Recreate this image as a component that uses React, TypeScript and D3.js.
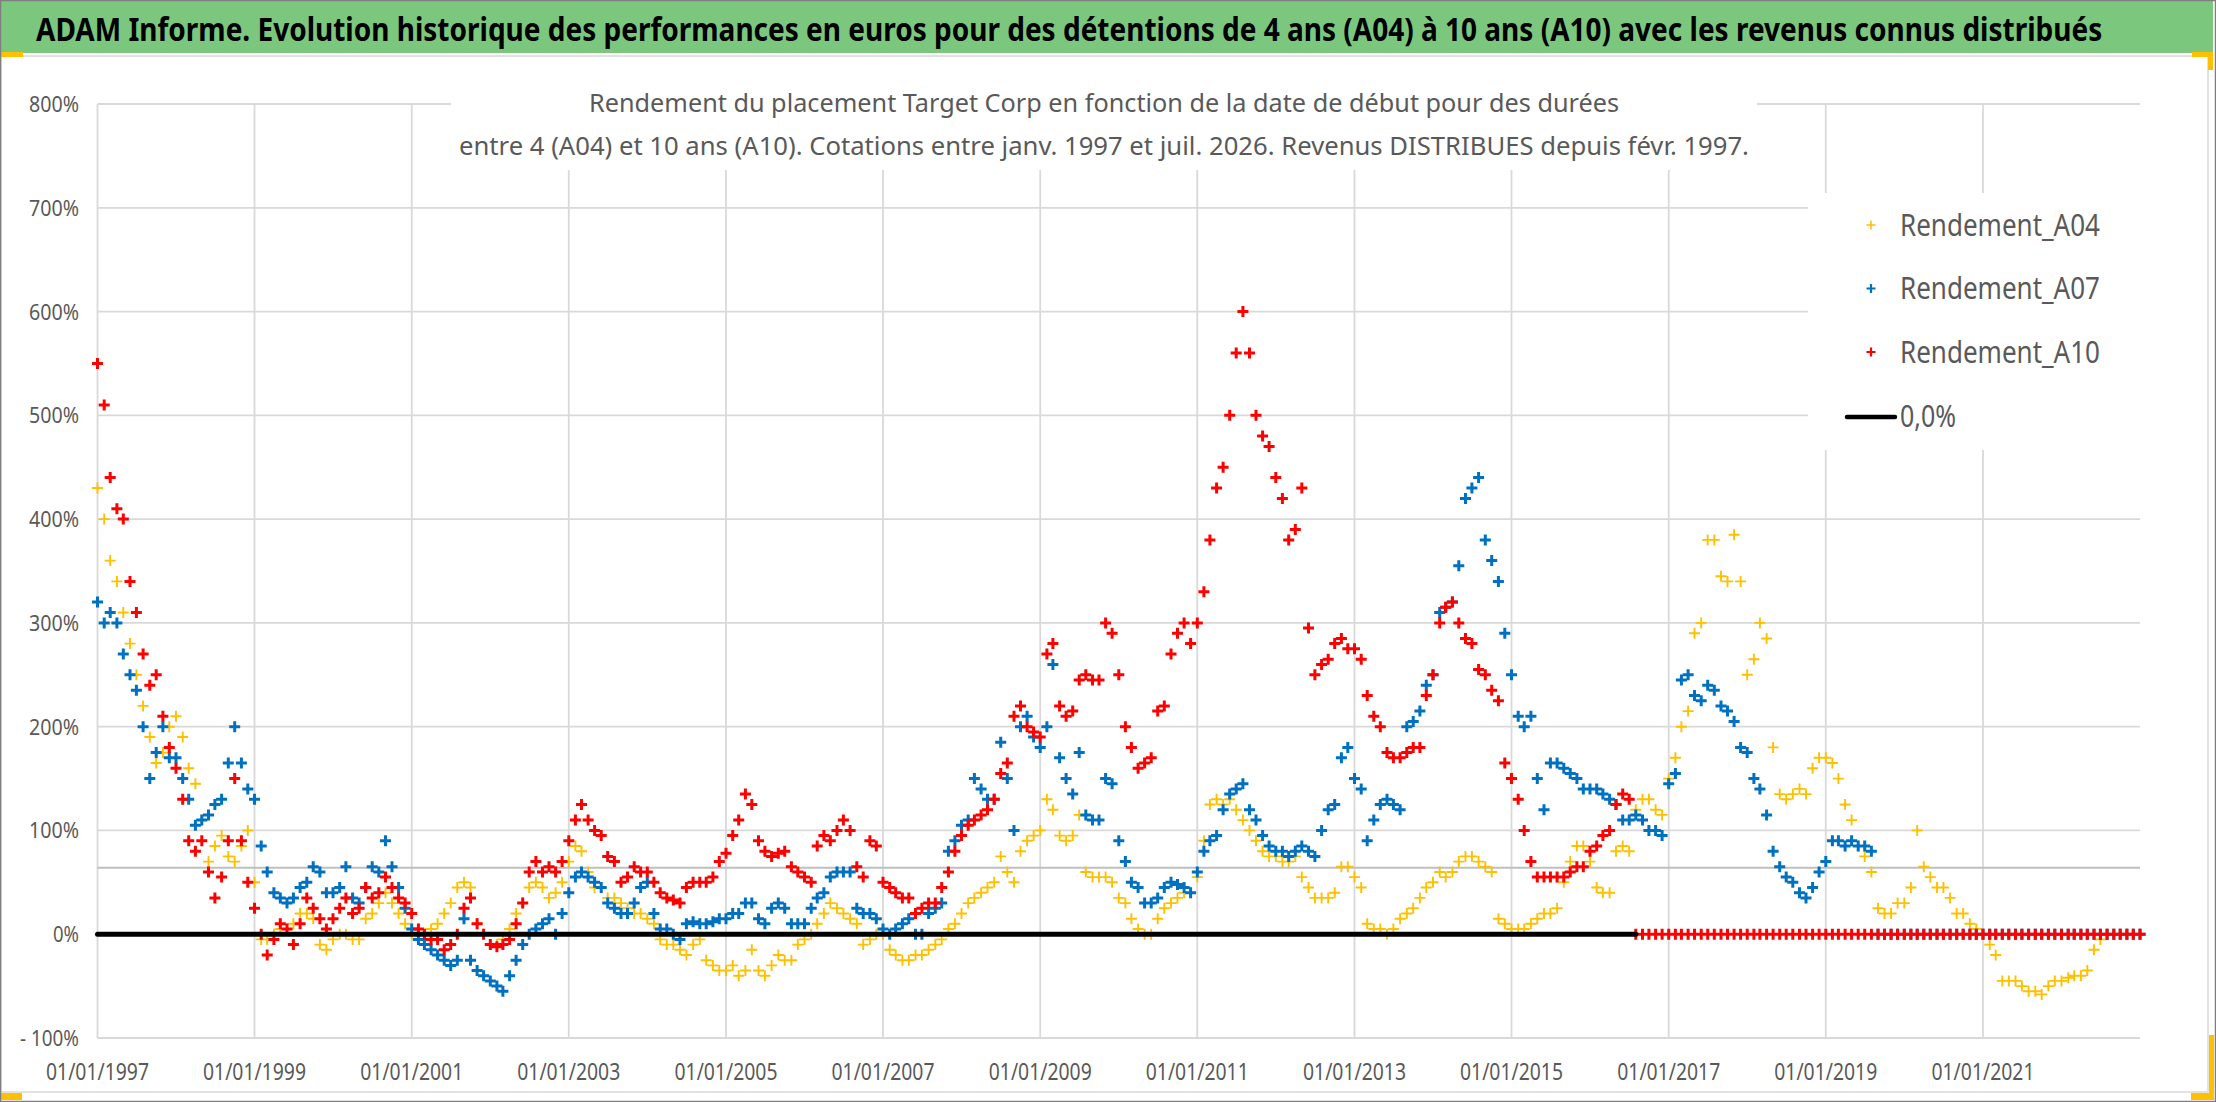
// App.tsx
// Target Corp : rendements A04 / A07 / A10 (nuage de points) avec d3
import React, { useLayoutEffect, useRef, useState } from 'react';
import * as d3 from 'd3';

// valeurs mensuelles en %, une ligne par année, à partir de janv. 1997
const rendementA04 = [
  430, 400, 360, 340, 310, 280, 250, 220, 190, 165, 175, 200,
  210, 190, 160, 145, 110, 70, 85, 95, 75, 70, 85, 100,
  50, -5, -5, 0, 5, 5, 10, 20, 20, 15, -10, -15,
  -5, 0, 0, -5, -5, 15, 20, 30, 40, 30, 20, 10,
  0, 5, 0, 5, 10, 20, 30, 45, 50, 45, 10, 0,
  -10, -10, -5, 5, 20, 30, 45, 50, 45, 35, 40, 50,
  70, 85, 80, 60, 45, 45, 35, 35, 30, 25, 20, 20,
  15, 10, -5, -10, -10, -15, -20, -10, -5, -25, -30, -35,
  -35, -30, -40, -35, -15, -35, -40, -30, -20, -25, -25, -10,
  -5, 0, 10, 20, 30, 25, 20, 15, 10, -10, -5, 0,
  0, -15, -20, -25, -25, -20, -20, -15, -10, -5, 5, 10,
  20, 30, 35, 40, 45, 50, 75, 60, 50, 80, 90, 95,
  100, 130, 120, 95, 90, 95, 115, 60, 55, 55, 55, 50,
  35, 30, 15, 5, 0, 0, 15, 25, 30, 35, 40, 40,
  55, 90, 125, 130, 125, 130, 120, 110, 100, 90, 80, 75,
  75, 70, 70, 75, 55, 45, 35, 35, 35, 40, 65, 65,
  55, 45, 10, 5, 5, 0, 5, 15, 20, 25, 35, 45,
  50, 60, 55, 60, 70, 75, 75, 70, 65, 60, 15, 10,
  5, 5, 5, 10, 15, 20, 20, 25, 50, 70, 85, 85,
  70, 45, 40, 40, 80, 85, 80, 120, 130, 130, 120, 115,
  150, 170, 200, 215, 290, 300, 380, 380, 345, 340, 385, 340,
  250, 265, 300, 285, 180, 135, 130, 135, 140, 135, 160, 170,
  170, 165, 150, 125, 110, 85, 75, 60, 25, 20, 20, 30,
  30, 45, 100, 65, 55, 45, 45, 35, 20, 20, 10, 5,
  0, -10, -20, -45, -45, -45, -50, -55, -55, -58, -50, -45,
  -45, -42, -40, -40, -35, -15, -5, 0, 0, 0, 0, 0,
  0,
];

const rendementA07 = [
  320, 300, 310, 300, 270, 250, 235, 200, 150, 175, 200, 170,
  170, 150, 130, 105, 110, 115, 125, 130, 165, 200, 165, 140,
  130, 85, 60, 40, 35, 30, 35, 45, 50, 65, 60, 40,
  40, 45, 65, 35, 30, 45, 65, 60, 90, 65, 45, 25,
  5, -5, -10, -15, -20, -25, -30, -25, 15, -25, -35, -40,
  -45, -50, -55, -40, -25, -10, 0, 5, 10, 15, 0, 20,
  40, 55, 60, 55, 50, 45, 30, 25, 20, 20, 30, 45,
  50, 20, 5, 5, 0, -5, 10, 12, 10, 10, 12, 15,
  15, 20, 20, 30, 30, 15, 10, 25, 30, 25, 10, 10,
  10, 25, 35, 40, 55, 60, 60, 60, 25, 20, 20, 15,
  5, 0, 5, 10, 15, 0, 0, 20, 25, 30, 80, 90,
  105, 110, 150, 140, 130, 130, 185, 150, 100, 200, 210, 190,
  180, 200, 260, 170, 150, 135, 175, 115, 110, 110, 150, 145,
  90, 70, 50, 45, 30, 30, 35, 45, 50, 48, 45, 40,
  60, 80, 90, 95, 120, 135, 140, 145, 120, 110, 95, 85,
  80, 80, 75, 80, 85, 80, 75, 100, 120, 125, 170, 180,
  150, 140, 90, 110, 125, 130, 125, 120, 200, 205, 215, 240,
  250, 310, 315, 320, 355, 420, 430, 440, 380, 360, 340, 290,
  250, 210, 200, 210, 150, 120, 165, 165, 160, 155, 150, 140,
  140, 140, 135, 130, 125, 110, 110, 115, 110, 100, 100, 95,
  145, 155, 245, 250, 230, 225, 240, 235, 220, 215, 205, 180,
  175, 150, 140, 115, 80, 65, 55, 50, 40, 35, 45, 60,
  70, 90, 90, 85, 90, 85, 85, 80, 0, 0, 0, 0,
  0, 0, 0, 0, 0, 0, 0, 0, 0, 0, 0, 0,
  0, 0, 0, 0, 0, 0, 0, 0, 0, 0, 0, 0,
  0, 0, 0, 0, 0, 0, 0, 0, 0, 0, 0, 0,
  0,
];

const rendementA10 = [
  550, 510, 440, 410, 400, 340, 310, 270, 240, 250, 210, 180,
  160, 130, 90, 80, 90, 60, 35, 55, 90, 150, 90, 50,
  25, 0, -20, -5, 10, 5, -10, 10, 35, 25, 15, 5,
  15, 25, 35, 20, 25, 45, 35, 40, 55, 45, 35, 30,
  20, 5, 0, -5, -5, -15, -10, 0, 25, 35, 10, 0,
  -10, -12, -10, -5, 10, 30, 60, 70, 60, 65, 60, 70,
  90, 110, 125, 110, 100, 95, 75, 70, 50, 55, 65, 60,
  60, 50, 40, 35, 33, 30, 45, 50, 50, 50, 55, 70,
  78, 95, 110, 135, 125, 90, 80, 75, 78, 80, 65, 60,
  55, 50, 85, 95, 90, 100, 110, 100, 65, 55, 90, 85,
  50, 45, 40, 35, 35, 20, 25, 30, 30, 45, 60, 80,
  95, 105, 110, 115, 120, 130, 155, 165, 210, 220, 200, 195,
  190, 270, 280, 220, 210, 215, 245, 250, 245, 245, 300, 290,
  250, 200, 180, 160, 165, 170, 215, 220, 270, 290, 300, 280,
  300, 330, 380, 430, 450, 500, 560, 600, 560, 500, 480, 470,
  440, 420, 380, 390, 430, 295, 250, 260, 265, 280, 285, 275,
  275, 265, 230, 210, 200, 175, 170, 170, 175, 180, 180, 230,
  250, 300, 315, 320, 300, 285, 280, 255, 250, 235, 225, 165,
  150, 130, 100, 70, 55, 55, 55, 55, 55, 60, 65, 65,
  80, 85, 95, 100, 125, 135, 130, 0, 0, 0, 0, 0,
  0, 0, 0, 0, 0, 0, 0, 0, 0, 0, 0, 0,
  0, 0, 0, 0, 0, 0, 0, 0, 0, 0, 0, 0,
  0, 0, 0, 0, 0, 0, 0, 0, 0, 0, 0, 0,
  0, 0, 0, 0, 0, 0, 0, 0, 0, 0, 0, 0,
  0, 0, 0, 0, 0, 0, 0, 0, 0, 0, 0, 0,
  0, 0, 0, 0, 0, 0, 0, 0, 0, 0, 0, 0,
  0,
];

const seriesNames = ['Rendement_A04', 'Rendement_A07', 'Rendement_A10'];
const seriesColors = ['#FFC000', '#0070C0', '#FF0000'];
const yTicks = [-100, 0, 100, 200, 300, 400, 500, 600, 700, 800];
const xTickYears = [1997, 1999, 2001, 2003, 2005, 2007, 2009, 2011, 2013, 2015, 2017, 2019, 2021];
const refLevel = 64; // ligne grise horizontale
const zeroLineEnd = new Date(2016, 7, 1);

const title =
  'ADAM Informe. Evolution historique des performances en euros pour des détentions de 4 ans (A04) à 10 ans (A10) avec les revenus connus distribués';
const subtitle1 = 'Rendement du placement Target Corp en fonction de la date de début pour des durées';
const subtitle2 =
  'entre 4 (A04) et 10 ans (A10). Cotations entre janv. 1997 et juil. 2026. Revenus DISTRIBUES depuis févr. 1997.';

const W = 2216;
const H = 1102;
const font = "'Noto Sans', 'Open Sans', sans-serif";
const grey = '#595959';

const x = d3
  .scaleTime()
  .domain([new Date(1997, 0, 1), new Date(2023, 0, 1)])
  .range([97.5, 2140]);
const y = d3.scaleLinear().domain([-100, 800]).range([1038, 104]);

const fmtPct = (v: number) => (v < 0 ? `- ${-v}%` : `${v}%`);
const fmtDate = d3.timeFormat('%d/%m/%Y');

const plusPath = (vals: number[], r: number) =>
  vals
    .map((v, i) => {
      const px = x(new Date(1997, i, 1));
      const py = y(v);
      return `M${(px - r).toFixed(1)},${py.toFixed(1)}h${2 * r}M${px.toFixed(1)},${(py - r).toFixed(1)}v${2 * r}`;
    })
    .join('');

export default function App() {
  const series = [rendementA04, rendementA07, rendementA10];
  const x0 = x.range()[0];
  const x1 = x.range()[1];

  // le titre est mis à la largeur voulue par une mise à l'échelle horizontale
  const titleRef = useRef<SVGTextElement>(null);
  const [titleScale, setTitleScale] = useState(0.7);
  useLayoutEffect(() => {
    const w = titleRef.current?.getComputedTextLength();
    if (w) setTitleScale(2066 / w);
  }, []);

  return (
    <>
      <style>{'body{margin:0}'}</style>
      <svg width={W} height={H} style={{ display: 'block', background: '#fff' }}>
        {/* bandeau titre */}
        <rect x={0} y={0} width={2213} height={53} fill="#7CC77E" />
        <text
          ref={titleRef}
          transform={`translate(36,41) scale(${titleScale},1)`}
          fontFamily={font}
          fontWeight="bold"
          fontSize={32}
          fill="#000"
        >
          {title}
        </text>

        {/* cadre du graphique */}
        <rect x={1} y={56} width={2207} height={1036} fill="#fff" stroke="#D9D9D9" strokeWidth={1.5} />

        {/* quadrillage */}
        {yTicks.map((t) => (
          <line key={'h' + t} x1={x0} x2={x1} y1={y(t)} y2={y(t)} stroke="#D9D9D9" strokeWidth={1.8} />
        ))}
        {xTickYears.map((yr) => (
          <line
            key={'v' + yr}
            x1={x(new Date(yr, 0, 1))}
            x2={x(new Date(yr, 0, 1))}
            y1={y(800)}
            y2={y(-100)}
            stroke="#D9D9D9"
            strokeWidth={1.8}
          />
        ))}
        <line x1={x0} x2={x1} y1={y(refLevel)} y2={y(refLevel)} stroke="#BFBFBF" strokeWidth={2} />

        {/* fonds blancs du sous-titre et de la légende */}
        <rect x={451} y={60} width={1306} height={110} fill="#fff" />
        <rect x={1808} y={193} width={333} height={257} fill="#fff" />

        {/* sous-titre */}
        <text x={589} y={112} fontFamily={font} fontSize={25} fill={grey} textLength={1030} lengthAdjust="spacingAndGlyphs">
          {subtitle1}
        </text>
        <text x={459} y={155} fontFamily={font} fontSize={25} fill={grey} textLength={1290} lengthAdjust="spacingAndGlyphs">
          {subtitle2}
        </text>

        {/* axes */}
        {yTicks.map((t) => {
          const digits = String(Math.abs(t)).length;
          return (
            <text
              key={'yl' + t}
              x={79}
              y={y(t) + 8}
              textAnchor="end"
              fontFamily={font}
              fontSize={22}
              fill={grey}
              textLength={12 * digits + 14 + (t < 0 ? 9 : 0)}
              lengthAdjust="spacingAndGlyphs"
            >
              {fmtPct(t)}
            </text>
          );
        })}
        {xTickYears.map((yr) => (
          <text
            key={'xl' + yr}
            x={x(new Date(yr, 0, 1))}
            y={1080}
            textAnchor="middle"
            fontFamily={font}
            fontSize={23}
            fill={grey}
            textLength={103}
            lengthAdjust="spacingAndGlyphs"
          >
            {fmtDate(new Date(yr, 0, 1))}
          </text>
        ))}

        {/* séries */}
        {series.map((vals, k) => (
          <path
            key={seriesNames[k]}
            d={plusPath(vals, 5.5)}
            stroke={seriesColors[k]}
            strokeWidth={k === 0 ? 1.9 : 3}
            fill="none"
          />
        ))}
        <line
          x1={x0}
          x2={x(zeroLineEnd)}
          y1={y(0)}
          y2={y(0)}
          stroke="#000"
          strokeWidth={5}
          strokeLinecap="round"
        />

        {/* légende */}
        {seriesNames.map((name, k) => {
          const ly = 225 + k * 63.5;
          return (
            <g key={'lg' + name}>
              <path
                d={`M${1871 - 4.5},${ly}h9M1871,${ly - 4.5}v9`}
                stroke={seriesColors[k]}
                strokeWidth={k === 0 ? 1.5 : 2.2}
              />
              <text
                x={1900}
                y={ly + 10.5}
                fontFamily={font}
                fontSize={30}
                fill={grey}
                textLength={200}
                lengthAdjust="spacingAndGlyphs"
              >
                {name}
              </text>
            </g>
          );
        })}
        <line x1={1847} x2={1895} y1={417} y2={417} stroke="#000" strokeWidth={4.5} strokeLinecap="round" />
        <text x={1900} y={427} fontFamily={font} fontSize={30} fill={grey} textLength={56} lengthAdjust="spacingAndGlyphs">
          0,0%
        </text>

        {/* poignées de sélection et bordure */}
        <rect x={0} y={52} width={23} height={5} fill="#FFC000" />
        <rect x={0} y={1093} width={22} height={7} fill="#FFC000" />
        <rect x={2192} y={52} width={21} height={5} fill="#FFC000" />
        <rect x={2208} y={52} width={5} height={18} fill="#FFC000" />
        <rect x={2209} y={1035} width={5} height={65} fill="#FFC000" />
        <rect x={2191} y={1093} width={23} height={7} fill="#FFC000" />
        <rect x={0.5} y={0.5} width={W - 1} height={H - 1} fill="none" stroke="#7F7F7F" strokeWidth={1.5} />
      </svg>
    </>
  );
}
